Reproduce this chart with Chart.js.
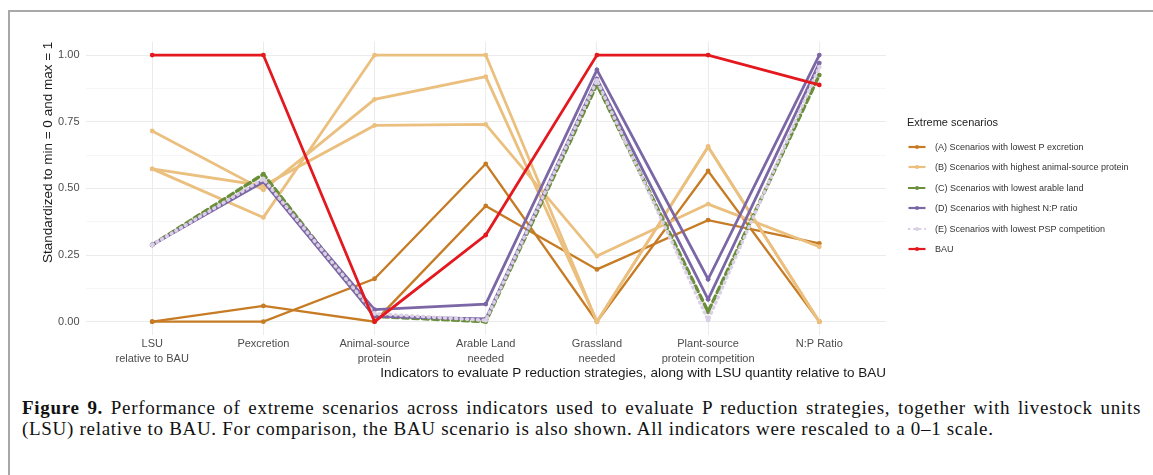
<!DOCTYPE html>
<html>
<head>
<meta charset="utf-8">
<script src="https://cdn.jsdelivr.net/npm/chart.js@4.4.0/dist/chart.umd.min.js"></script>
<style>
    body {
        margin: 0;
        width: 1153px;
        height: 475px;
        background: #fff;
        position: relative;
        overflow: hidden;
        font-family: 'Liberation Sans', Arial, sans-serif;
    }
    .frame {
        position: absolute;
        left: 8px;
        top: 10px;
        right: -4px;
        bottom: -4px;
        border-top: 2px solid #a8a8a8;
        border-left: 2px solid #a8a8a8;
    }
    #wrap {
        position: absolute;
        left: 10px;
        top: 12px;
        width: 1143px;
        height: 381px;
    }
    .legend-title {
        position: absolute;
        left: 907px;
        top: 116px;
        font-size: 11px;
        color: #222;
        white-space: nowrap;
    }
    .legend-row {
        position: absolute;
        left: 907px;
        height: 12px;
        font-size: 9px;
        line-height: 12px;
        color: #333;
        white-space: nowrap;
    }
    .legend-row svg {
        position: absolute;
        left: 1px;
        top: 2px;
    }
    .legend-row span {
        position: absolute;
        left: 28px;
        top: 0;
    }
    .caption {
        position: absolute;
        left: 22px;
        top: 397px;
        width: 1119px;
        font-family: 'Liberation Serif', 'Times New Roman', serif;
        font-size: 19px;
        letter-spacing: 0.7px;
        line-height: 21px;
        color: #111;
    }
    .caption .l1 {
        text-align: justify;
        text-align-last: justify;
        white-space: nowrap;
    }
</style>
</head>
<body>
<div class="frame"></div>
<div id="wrap"><canvas id="chart" width="1143" height="381"></canvas></div>
<div id="legend"></div>
<div class="caption">
    <div class="l1"><b>Figure 9.</b> Performance of extreme scenarios across indicators used to evaluate P reduction strategies, together with livestock units</div>
    <div>(LSU) relative to BAU. For comparison, the BAU scenario is also shown. All indicators were rescaled to a 0–1 scale.</div>
</div>

<script>
// === DATA ===
const categories = [
    ['LSU', 'relative to BAU'],
    ['Pexcretion'],
    ['Animal-source', 'protein'],
    ['Arable Land', 'needed'],
    ['Grassland', 'needed'],
    ['Plant-source', 'protein competition'],
    ['N:P Ratio']
];
const yTickValues = [0, 0.25, 0.5, 0.75, 1];

// (A) lowest P excretion
const lowestPExcretion1 = [0.00, 0.059, 0.00, 0.434, 0.196, 0.381, 0.294];
const lowestPExcretion2 = [0.00, 0.00, 0.161, 0.592, 0.00, 0.565, 0.00];
// (B) highest animal-source protein
const highestAnimal1 = [0.715, 0.494, 0.834, 0.919, 0.00, 0.656, 0.00];
const highestAnimal2 = [0.573, 0.51, 0.736, 0.74, 0.246, 0.441, 0.281];
const highestAnimal3 = [0.573, 0.391, 1.00, 1.00, 0.00, 0.656, 0.00];
// (C) lowest arable land
const lowestArable1 = [0.288, 0.553, 0.02, 0.00, 0.89, 0.037, 0.925];
// (D) highest N:P ratio
const highestNP1 = [0.288, 0.531, 0.045, 0.066, 0.944, 0.159, 1.00];
const highestNP2 = [0.288, 0.525, 0.02, 0.01, 0.91, 0.084, 0.97];
// (E) lowest PSP competition
const lowestPSP1 = [0.288, 0.535, 0.03, 0.005, 0.905, 0.006, 0.955];
// BAU
const bau = [1.00, 1.00, 0.00, 0.325, 1.00, 1.00, 0.888];

// === GROUPS (ggplot order: first drawn at the bottom) ===
const groups = [
    { label: '(A) Scenarios with lowest P excretion', color: '#c67b24', width: 2.3, dash: [], lines: [lowestPExcretion1, lowestPExcretion2] },
    { label: '(B) Scenarios with highest animal-source protein', color: '#ebbf7e', width: 2.8, dash: [], lines: [highestAnimal1, highestAnimal2, highestAnimal3] },
    { label: '(C) Scenarios with lowest arable land', color: '#6a8f3a', width: 3.5, dash: [6, 4], lines: [lowestArable1] },
    { label: '(D) Scenarios with highest N:P ratio', color: '#7b67a6', width: 2.8, dash: [], lines: [highestNP1, highestNP2] },
    { label: '(E) Scenarios with lowest PSP competition', color: '#dacfe4', width: 3.5, dash: [1, 4.5], lines: [lowestPSP1] },
    { label: 'BAU', color: '#e3191f', width: 2.8, dash: [], lines: [bau] }
];

// minor grid lines half way between labelled ticks
const yGridValues = [];
yTickValues.forEach((v, i) => {
    yGridValues.push(v);
    if (i < yTickValues.length - 1) yGridValues.push((v + yTickValues[i + 1]) / 2);
});

function isMajor(v) {
    return yTickValues.some(t => Math.abs(t - v) < 1e-9);
}

// === DATASETS ===
const datasets = [];
groups.forEach((g, gi) => {
    g.lines.forEach(values => {
        datasets.push({
            label: g.label,
            data: values.map((v, i) => ({ x: i, y: v })),
            borderColor: g.color,
            backgroundColor: g.color,
            borderWidth: g.width,
            borderDash: g.dash,
            borderCapStyle: g.dash.length ? 'round' : 'butt',
            pointRadius: 2.4,
            pointBorderWidth: 0,
            pointHoverRadius: 0,
            tension: 0,
            order: groups.length - gi
        });
    });
});

// === CHART ===
const ctx = document.getElementById('chart').getContext('2d');
new Chart(ctx, {
    type: 'line',
    data: { datasets: datasets },
    options: {
        responsive: false,
        animation: false,
        devicePixelRatio: 1,
        layout: { padding: { left: 0, top: 29.7, right: 267, bottom: 0 } },
        plugins: {
            legend: { display: false },
            tooltip: { enabled: false }
        },
        scales: {
            x: {
                type: 'linear',
                min: -0.6,
                max: categories.length - 0.4,
                afterBuildTicks: axis => {
                    axis.ticks = categories.map((c, i) => ({ value: i }));
                },
                afterFit: scale => { scale.height = 58; },
                ticks: {
                    callback: value => categories[value],
                    autoSkip: false,
                    maxRotation: 0,
                    padding: 2,
                    color: '#4d4d4d',
                    font: { family: "'Liberation Sans', Arial, sans-serif", size: 11, lineHeight: 1.35 }
                },
                grid: { color: '#ebebeb', lineWidth: 1, drawTicks: false },
                border: { display: false },
                title: {
                    display: true,
                    text: 'Indicators to evaluate P reduction strategies, along with LSU quantity relative to BAU',
                    align: 'end',
                    color: '#1a1a1a',
                    font: { family: "'Liberation Sans', Arial, sans-serif", size: 13.5 },
                    padding: { top: 4, bottom: 12 }
                }
            },
            y: {
                type: 'linear',
                min: -0.05,
                max: 1.05,
                afterBuildTicks: axis => {
                    axis.ticks = yGridValues.map(v => ({ value: v }));
                },
                afterFit: scale => { scale.width = 75.5; },
                ticks: {
                    callback: value => isMajor(value) ? value.toFixed(2) : '',
                    padding: 6,
                    color: '#4d4d4d',
                    font: { family: "'Liberation Sans', Arial, sans-serif", size: 11 }
                },
                grid: {
                    color: c => isMajor(c.tick.value) ? '#ebebeb' : '#f2f2f2',
                    lineWidth: c => isMajor(c.tick.value) ? 1 : 0.7,
                    drawTicks: false
                },
                border: { display: false },
                title: {
                    display: true,
                    text: 'Standardized to min = 0 and max = 1',
                    align: 'end',
                    color: '#1a1a1a',
                    font: { family: "'Liberation Sans', Arial, sans-serif", size: 13.5 },
                    padding: { top: 30, bottom: 0 }
                }
            }
        }
    }
});

// === LEGEND (HTML) ===
const legend = document.getElementById('legend');
const title = document.createElement('div');
title.className = 'legend-title';
title.textContent = 'Extreme scenarios';
legend.appendChild(title);

groups.forEach((g, i) => {
    const row = document.createElement('div');
    row.className = 'legend-row';
    row.style.top = (140.7 + i * 20.5) + 'px';
    const dash = g.dash.length ? `stroke-dasharray="${g.dash.join(' ')}" stroke-linecap="round"` : '';
    row.innerHTML =
        `<svg width="18" height="8"><line x1="0.5" y1="4" x2="17.5" y2="4" stroke="${g.color}" stroke-width="2.2" ${dash}/>` +
        `<circle cx="9" cy="4" r="2" fill="${g.color}"/></svg>` +
        `<span>${g.label}</span>`;
    legend.appendChild(row);
});
</script>
</body>
</html>
